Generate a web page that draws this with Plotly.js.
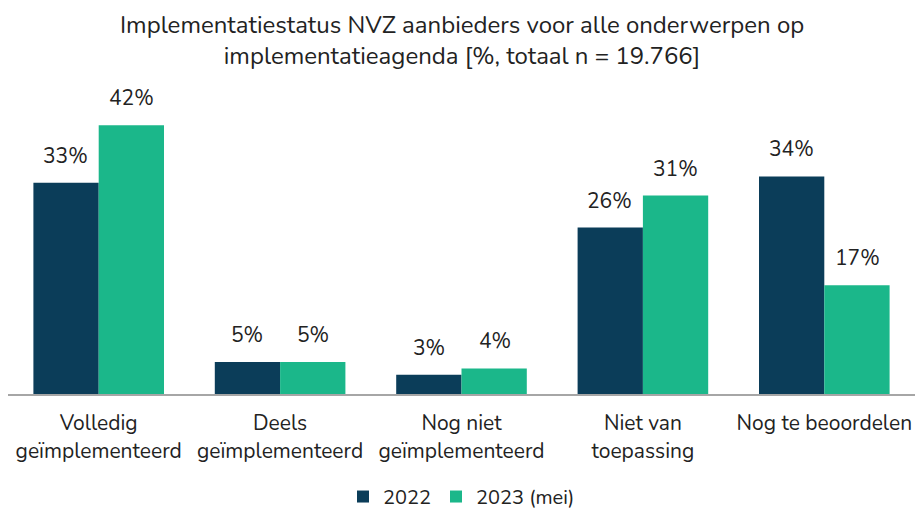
<!DOCTYPE html>
<html>
<head>
<meta charset="utf-8">
<script src="https://cdn.plot.ly/plotly-3.0.1.min.js"></script>
<style>html,body{margin:0;padding:0;background:#fff;}#chart{width:915px;height:514px;}</style>
</head>
<body>
<div id="chart"></div>
<script>
const categories = ["Volledig<br>geïmplementeerd", "Deels<br>geïmplementeerd", "Nog niet<br>geïmplementeerd", "Niet van<br>toepassing", "Nog te beoordelen"];
const values2022 = [33, 5, 3, 26, 34];
const values2023 = [42, 5, 4, 31, 17];
const seriesNames = ["2022", "2023 (mei)"];
const seriesColors = ["#0b3d59", "#1bb78a"];

const fontFam = "Nunito, Lato, 'Open Sans', sans-serif";
const mk = (vals, name, color) => ({
  type: "bar", x: categories, y: vals, name: name,
  marker: {color: color}, hoverinfo: "skip"
});
const data = [mk(values2022, seriesNames[0], seriesColors[0]), mk(values2023, seriesNames[1], seriesColors[1])];

const annotations = [];
[values2022, values2023].forEach((vals, s) => {
  vals.forEach((v, i) => {
    annotations.push({
      x: categories[i], y: v, xref: "x", yref: "y",
      text: v + "%", showarrow: false,
      xanchor: "center", yanchor: "middle",
      xshift: s === 0 ? -33 : 33, yshift: 27,
      font: {size: 21, color: "#222", family: fontFam}
    });
  });
});

const layout = {
  width: 915, height: 514,
  margin: {l: 8, r: 0, t: 90, b: 120},
  paper_bgcolor: "#fff", plot_bgcolor: "#fff",
  font: {family: fontFam, color: "#222", size: 20},
  title: {text: "Implementatiestatus NVZ aanbieders voor alle onderwerpen op<br>implementatieagenda [%, totaal n = 19.766]", x: 0.505, xanchor: "center", yref: "container", y: 0.936, yanchor: "middle", font: {size: 24, color: "#222", family: fontFam}},
  barmode: "group", bargap: 0.28, bargroupgap: 0,
  xaxis: {showline: true, linecolor: "#a6a6a6", linewidth: 2, ticks: "", ticklabelstandoff: 9, automargin: false, tickfont: {size: 21, color: "#222"}},
  yaxis: {range: [0, 47.5], visible: false, showgrid: false, zeroline: false, automargin: false},
  annotations: annotations,
  showlegend: true,
  legend: {orientation: "h", x: 0.5, xanchor: "center", yref: "container", y: 0.034, yanchor: "middle", font: {size: 20, color: "#222"}, traceorder: "normal"}
};
Plotly.newPlot("chart", data, layout, {displayModeBar: false, staticPlot: true});
</script>
</body>
</html>
